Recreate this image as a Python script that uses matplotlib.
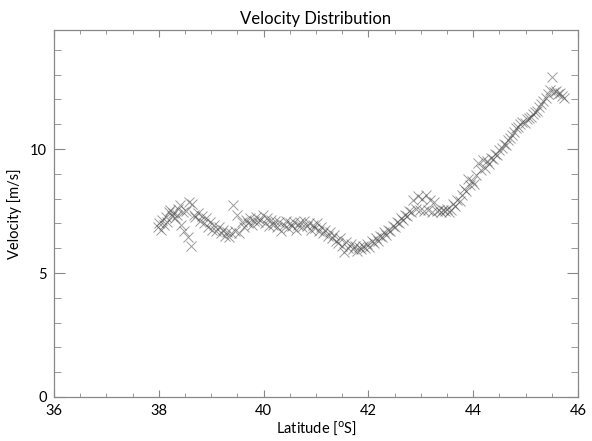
import matplotlib
matplotlib.use('Agg')
import matplotlib.pyplot as plt
from matplotlib.ticker import MultipleLocator

plt.rcParams['font.family'] = ['Lato', 'DejaVu Sans']

# Latitude [deg S] and velocity [m/s]
lat_a = [37.98, 38.01, 38.04, 38.07, 38.10, 38.13, 38.16, 38.19, 38.22, 38.25,
         38.28, 38.31, 38.34, 38.37, 38.40, 38.43, 38.46, 38.49, 38.52, 38.55,
         38.58, 38.61, 38.64, 38.67]
vel_a = [6.85, 7.00, 6.75, 7.15, 6.95, 7.25, 7.05, 7.45, 7.55, 7.30,
         7.40, 7.20, 7.35, 7.60, 7.75, 6.95, 7.45, 6.70, 7.50, 6.45,
         7.85, 6.10, 7.80, 7.35]

lat_b = [38.70, 38.74, 38.78, 38.82, 38.86, 38.90, 38.94, 38.98, 39.02, 39.06,
         39.10, 39.14, 39.18, 39.22, 39.26, 39.30, 39.34, 39.38, 39.42, 39.46,
         39.50, 39.54, 39.58, 39.62, 39.66]
vel_b = [7.25, 7.40, 7.10, 7.30, 7.00, 7.20, 6.85, 7.05, 6.75, 6.95,
         6.70, 6.85, 6.60, 6.75, 6.50, 6.65, 6.45, 6.60, 7.75, 6.70,
         7.35, 6.60, 7.05, 6.85, 7.15]

lat_c = [39.70, 39.74, 39.78, 39.82, 39.86, 39.90, 39.94, 39.98, 40.02, 40.06,
         40.10, 40.14, 40.18, 40.22, 40.26, 40.30, 40.34, 40.38, 40.42, 40.46,
         40.50, 40.54, 40.58, 40.62, 40.66, 40.70, 40.74, 40.78, 40.82, 40.86,
         40.90, 40.94, 40.98, 41.02, 41.06, 41.10, 41.14, 41.18]
vel_c = [7.00, 7.20, 6.95, 7.10, 7.25, 7.05, 7.15, 7.35, 7.00, 7.20,
         6.90, 7.15, 6.95, 7.10, 6.85, 7.05, 6.70, 6.95, 7.10, 6.80,
         7.00, 6.90, 7.05, 6.75, 6.95, 7.05, 6.85, 7.10, 6.90, 7.00,
         6.75, 6.95, 6.80, 7.00, 6.70, 6.85, 6.60, 6.75]

lat_d = [41.22, 41.26, 41.30, 41.34, 41.38, 41.42, 41.46, 41.50, 41.54, 41.58,
         41.62, 41.66, 41.70, 41.74, 41.78, 41.82, 41.86, 41.90, 41.94, 41.98]
vel_d = [6.50, 6.65, 6.40, 6.55, 6.30, 6.20, 6.40, 6.10, 5.85, 6.25,
         6.00, 6.15, 5.95, 6.10, 5.90, 6.05, 5.95, 6.10, 6.00, 6.15]

lat_e = [42.02, 42.06, 42.10, 42.14, 42.18, 42.22, 42.26, 42.30, 42.34, 42.38,
         42.42, 42.46, 42.50, 42.54, 42.58, 42.62, 42.66, 42.70, 42.74, 42.78,
         42.82]
vel_e = [6.05, 6.30, 6.20, 6.40, 6.30, 6.50, 6.45, 6.65, 6.55, 6.75,
         6.70, 6.90, 6.85, 7.05, 7.00, 7.20, 7.15, 7.35, 7.30, 7.50,
         7.45]

lat_f = [42.86, 42.90, 42.94, 42.98, 43.02, 43.06, 43.10, 43.14, 43.18, 43.22,
         43.26, 43.30, 43.34, 43.38, 43.42, 43.46, 43.50, 43.54, 43.58, 43.62]
vel_f = [7.95, 7.60, 8.10, 7.55, 8.00, 7.50, 8.15, 7.55, 7.95, 7.45,
         7.85, 7.50, 7.55, 7.45, 7.55, 7.50, 7.60, 7.45, 7.55, 7.80]

lat_g = [43.66, 43.70, 43.74, 43.78, 43.82, 43.86, 43.90, 43.94, 43.98, 44.02,
         44.06, 44.10, 44.14, 44.18, 44.22, 44.26]
vel_g = [7.70, 7.95, 7.90, 8.15, 8.40, 8.30, 8.80, 8.55, 8.70, 8.60,
         8.95, 9.45, 9.15, 9.55, 9.25, 9.50]

lat_h = [44.30, 44.34, 44.38, 44.42, 44.46, 44.50, 44.54, 44.58, 44.62, 44.66,
         44.70, 44.74, 44.78, 44.82, 44.86, 44.90, 44.94, 44.98, 45.02, 45.06,
         45.10, 45.14, 45.18, 45.22, 45.26, 45.30, 45.34, 45.38, 45.42, 45.46,
         45.50, 45.54, 45.58, 45.62, 45.66, 45.70, 45.74]
vel_h = [9.40, 9.65, 9.60, 9.80, 9.75, 9.95, 10.05, 10.20, 10.15, 10.35,
         10.45, 10.55, 10.70, 10.85, 10.90, 11.00, 11.10, 11.05, 11.20, 11.25,
         11.30, 11.40, 11.50, 11.55, 11.70, 11.80, 11.95, 12.05, 12.20, 12.40,
         12.90, 12.30, 12.35, 12.20, 12.25, 12.15, 12.05]

lat = lat_a + lat_b + lat_c + lat_d + lat_e + lat_f + lat_g + lat_h
vel = vel_a + vel_b + vel_c + vel_d + vel_e + vel_f + vel_g + vel_h

fig = plt.figure(figsize=(5.92, 4.41), dpi=100)
ax = fig.add_axes([0.0912, 0.0998, 0.8852, 0.8322])

ax.plot(lat, vel, linestyle='none', marker='x', markersize=7.5,
        markeredgewidth=0.7, color='#4a4a4a', alpha=0.55)

ax.set_xlim(36, 46)
ax.set_ylim(0, 14.8)
ax.xaxis.set_major_locator(MultipleLocator(2))
ax.xaxis.set_minor_locator(MultipleLocator(0.5))
ax.yaxis.set_major_locator(MultipleLocator(5))
ax.yaxis.set_minor_locator(MultipleLocator(1))

for s in ax.spines.values():
    s.set_color('#888888')
    s.set_linewidth(0.9)
ax.tick_params(which='both', direction='in', top=True, right=True,
               color='#888888', labelsize=10.5, pad=5)
ax.tick_params(axis='x', which='major', length=5)
ax.tick_params(axis='x', which='minor', length=3)
ax.tick_params(axis='y', which='major', length=8)
ax.tick_params(axis='y', which='minor', length=5)

ax.set_title('Velocity Distribution', fontsize=12, pad=4)
ax.set_xlabel(r'Latitude [$^{\mathrm{o}}$S]', fontsize=10.5, labelpad=1)
ax.set_ylabel('Velocity [m/s]', fontsize=10.5, labelpad=6)

fig.savefig('out.png', dpi=100)
